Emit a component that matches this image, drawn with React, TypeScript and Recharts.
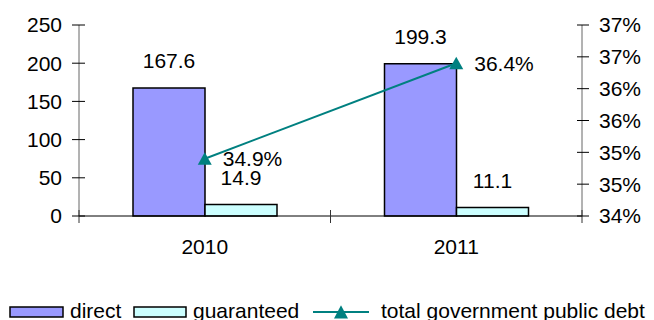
import { ComposedChart, Bar, Line, XAxis, YAxis, LabelList, Legend } from "recharts";

const years = ["2010", "2011"];
const direct = [167.6, 199.3];
const guaranteed = [14.9, 11.1];
const totalDebt = [34.9, 36.4];
const leftTicks = [0, 50, 100, 150, 200, 250];
const rightTicks = [34, 34.5, 35, 35.5, 36, 36.5, 37];

const data = years.map((year, i) => ({
  year,
  direct: direct[i],
  guaranteed: guaranteed[i],
  total: totalDebt[i],
}));

const FONT = "'Liberation Sans', Arial, sans-serif";
const FS = 21;
const TEAL = "#008080";
const CHART_W = 654;
const LEFT_W = 79;
const RIGHT_W = 72;
const PLOT_W = CHART_W - LEFT_W - RIGHT_W;
const X_TICK_MARGIN = 23;

function LeftTick({ x, y, payload }: any) {
  return (
    <g>
      <line x1={x - 7} x2={x + 6} y1={y} y2={y} stroke="#000" />
      <text x={x - 17} y={y} dy="0.355em" textAnchor="end" fontSize={FS} fontFamily={FONT} fill="#000">
        {payload.value}
      </text>
    </g>
  );
}

function RightTick({ x, y, payload }: any) {
  return (
    <g>
      <line x1={x - 5} x2={x + 7} y1={y} y2={y} stroke="#000" />
      <text x={x + 17} y={y} dy="0.355em" textAnchor="start" fontSize={FS} fontFamily={FONT} fill="#000">
        {`${Math.round(payload.value)}%`}
      </text>
    </g>
  );
}

// category labels, plus the little marks on the category boundaries
function YearTick({ x, y, payload, index, visibleTicksCount }: any) {
  const axisY = y - X_TICK_MARGIN;
  const count = visibleTicksCount || years.length;
  const half = PLOT_W / count / 2;
  const last = index === count - 1;
  return (
    <g>
      <line x1={x - half} x2={x - half} y1={axisY - 6} y2={axisY + 7} stroke="#333" />
      {last && <line x1={x + half} x2={x + half} y1={axisY - 6} y2={axisY + 7} stroke="#333" />}
      <text x={x} y={y} dy="0.71em" textAnchor="middle" fontSize={FS} fontFamily={FONT} fill="#000">
        {payload.value}
      </text>
    </g>
  );
}

function TriangleDot({ cx, cy, index }: any) {
  if (cx == null || cy == null) return <g key={index} />;
  return <polygon key={index} points={`${cx},${cy - 6.5} ${cx + 7},${cy + 6} ${cx - 7},${cy + 6}`} fill={TEAL} />;
}

function LegendContent() {
  const text = { fontSize: FS, fontFamily: FONT, fill: "#000" };
  return (
    <svg width={CHART_W} height={28} style={{ display: "block" }}>
      <rect x={10} y={15} width={53} height={10} fill="#9999FF" stroke="#000" strokeWidth={1.5} />
      <text x={70} y={26} {...text}>direct</text>
      <rect x={134} y={15} width={52} height={10} fill="#CCFFFF" stroke="#000" strokeWidth={1.5} />
      <text x={193} y={26} {...text}>guaranteed</text>
      <line x1={313} x2={369} y1={20} y2={20} stroke={TEAL} strokeWidth={2} />
      <polygon points="341,13.3 348,26.5 334,26.5" fill={TEAL} />
      <text x={381} y={26} {...text}>total government public debt</text>
    </svg>
  );
}

export default function App() {
  return (
    <div style={{ position: "absolute", left: 0, top: 0, fontFamily: FONT }}>
      <ComposedChart width={CHART_W} height={320} data={data} margin={{ top: 25, right: 0, left: 0, bottom: 0 }} barGap={0}>
        <XAxis
          dataKey="year"
          height={76}
          axisLine={{ stroke: "#000" }}
          tickLine={false}
          tickSize={0}
          tickMargin={X_TICK_MARGIN}
          tick={<YearTick />}
        />
        <YAxis
          yAxisId="left"
          width={LEFT_W}
          domain={[0, 250]}
          ticks={leftTicks}
          axisLine={{ stroke: "#666" }}
          tickLine={false}
          tickSize={0}
          tickMargin={0}
          tick={<LeftTick />}
        />
        <YAxis
          yAxisId="right"
          orientation="right"
          width={RIGHT_W}
          domain={[34, 37]}
          ticks={rightTicks}
          axisLine={{ stroke: "#666" }}
          tickLine={false}
          tickSize={0}
          tickMargin={0}
          tick={<RightTick />}
        />
        <Bar yAxisId="left" dataKey="direct" barSize={72} fill="#9999FF" stroke="#000" strokeWidth={1.5} isAnimationActive={false}>
          <LabelList dataKey="direct" position="top" offset={20} fontSize={FS} fontFamily={FONT} fill="#000" />
        </Bar>
        <Bar yAxisId="left" dataKey="guaranteed" barSize={72} fill="#CCFFFF" stroke="#000" strokeWidth={1.5} isAnimationActive={false}>
          <LabelList dataKey="guaranteed" position="top" offset={20} fontSize={FS} fontFamily={FONT} fill="#000" />
        </Bar>
        <Line
          yAxisId="right"
          dataKey="total"
          stroke={TEAL}
          strokeWidth={2}
          dot={(p: any) => <TriangleDot key={p.index} {...p} />}
          activeDot={false}
          isAnimationActive={false}
        >
          <LabelList
            dataKey="total"
            position="right"
            offset={18}
            formatter={(v: any) => `${v}%`}
            fontSize={FS}
            fontFamily={FONT}
            fill="#000"
          />
        </Line>
        <Legend
          verticalAlign="bottom"
          content={<LegendContent />}
          wrapperStyle={{ position: "absolute", left: 0, top: 292, width: CHART_W, height: 28, lineHeight: 0 }}
        />
      </ComposedChart>
    </div>
  );
}
